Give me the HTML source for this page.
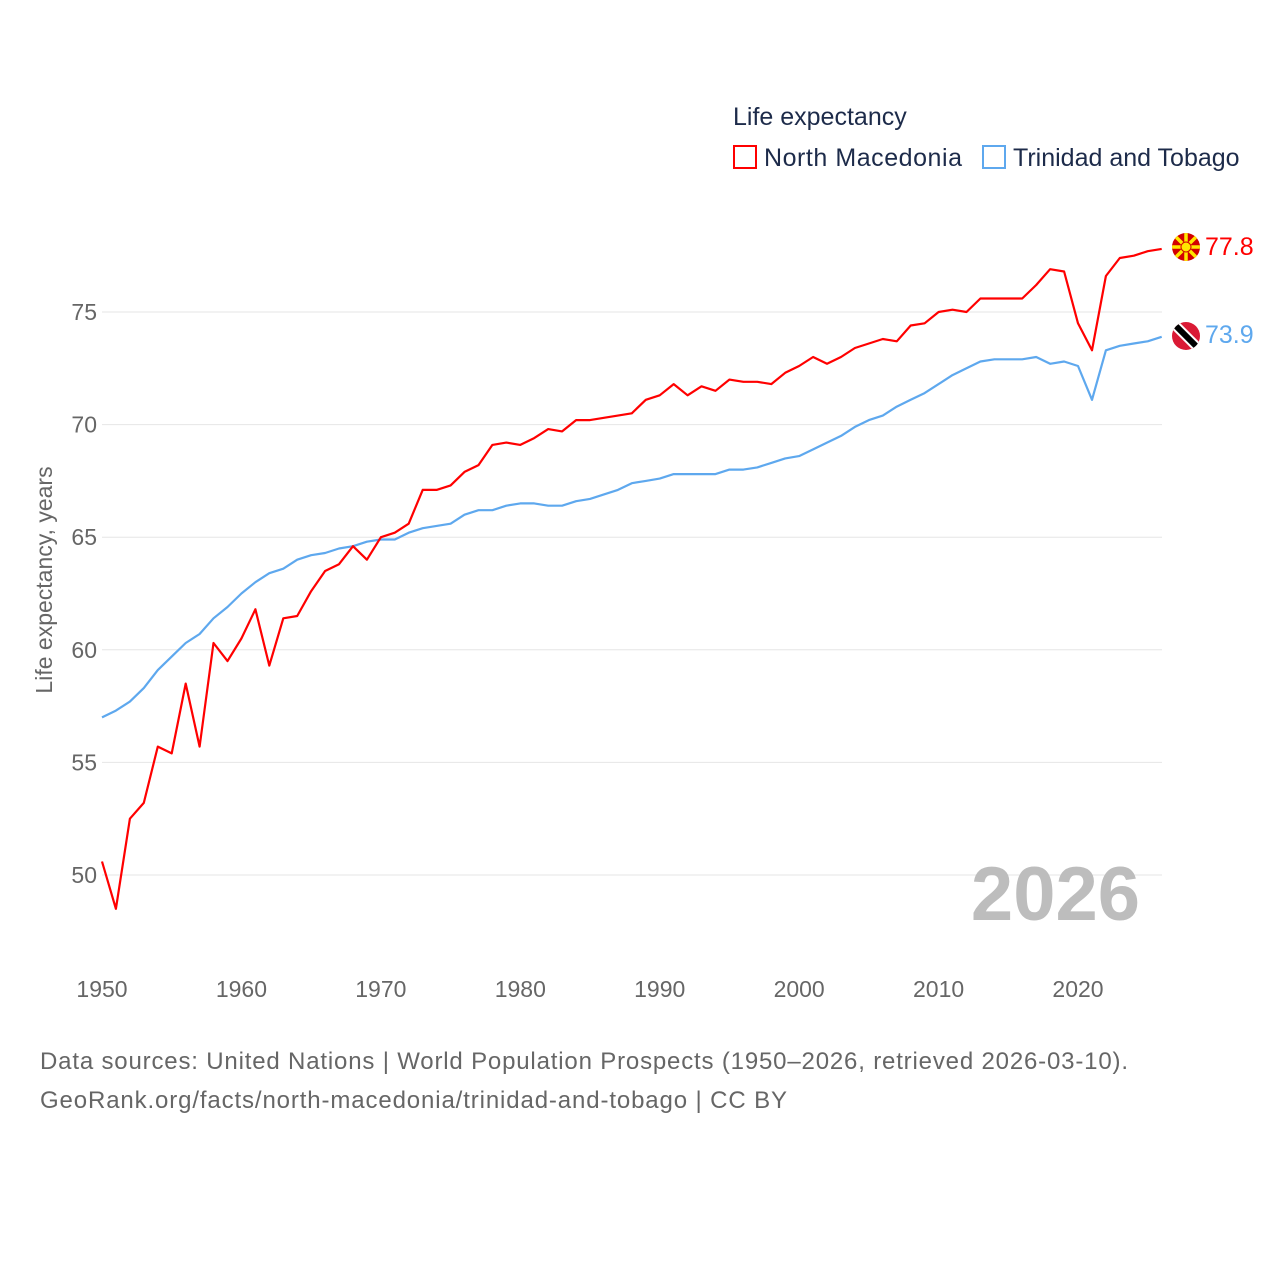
<!DOCTYPE html>
<html><head><meta charset="utf-8"><style>
body{margin:0;background:#fff;}
svg{display:block;font-family:"Liberation Sans",sans-serif;}
</style></head><body>
<svg id="chart" width="1280" height="1280" viewBox="0 0 1280 1280">
<g id="grid"></g>
<g id="yticks"></g>
<g id="xticks"></g>
<text x="52" y="580" transform="rotate(-90 52 580)" text-anchor="middle" font-size="23" fill="#666">Life expectancy, years</text>
<text x="1140" y="920" text-anchor="end" font-size="76" font-weight="bold" fill="#bdbdbd">2026</text>
<g id="lines"></g>
<g>
<text x="733" y="125" font-size="25" fill="#1d2b4a">Life expectancy</text>
<g>
<rect x="734" y="146" width="22" height="22" fill="none" stroke="#ff0000" stroke-width="2"/>
<text x="764" y="166" font-size="25" fill="#1d2b4a" textLength="198">North Macedonia</text></g>
<g>
<rect x="983" y="146" width="22" height="22" fill="none" stroke="#5ea8ee" stroke-width="2"/>
<text x="1013" y="166" font-size="25" fill="#1d2b4a">Trinidad and Tobago</text></g>
</g>
<g>
<clipPath id="c1"><circle cx="1186" cy="247" r="14"/></clipPath>
<g clip-path="url(#c1)"><rect x="1170" y="231" width="32" height="32" fill="#d20000"/>
<g stroke="#ffe600" stroke-width="3.5">
<line x1="1186" y1="231" x2="1186" y2="263"/><line x1="1170" y1="247" x2="1202" y2="247"/>
<line x1="1172" y1="233" x2="1200" y2="261"/><line x1="1200" y1="233" x2="1172" y2="261"/></g>
<circle cx="1186" cy="247" r="5" fill="#ffe600" stroke="#d20000" stroke-width="1"/></g></g>
<g>
<clipPath id="c2"><circle cx="1186" cy="336" r="14"/></clipPath>
<g clip-path="url(#c2)"><rect x="1170" y="320" width="32" height="32" fill="#da1a35"/>
<line x1="1172" y1="322" x2="1200" y2="350" stroke="#fff" stroke-width="10"/>
<line x1="1172" y1="322" x2="1200" y2="350" stroke="#000" stroke-width="6"/></g></g>
<text x="1205" y="255" font-size="25" fill="#ff0000">77.8</text>
<text x="1205" y="343" font-size="25" fill="#5ea8ee">73.9</text>
<text x="40" y="1069" font-size="24" fill="#666" textLength="1088">Data sources: United Nations | World Population Prospects (1950–2026, retrieved 2026-03-10).</text>
<text x="40" y="1108" font-size="24" fill="#666" textLength="747">GeoRank.org/facts/north-macedonia/trinidad-and-tobago | CC BY</text>
</svg>
<script>
const startYear = 1950;
const northMacedonia = [50.6,48.5,52.5,53.2,55.7,55.4,58.5,55.7,60.3,59.5,60.5,61.8,59.3,61.4,61.5,62.6,63.5,63.8,64.6,64.0,65.0,65.2,65.6,67.1,67.1,67.3,67.9,68.2,69.1,69.2,69.1,69.4,69.8,69.7,70.2,70.2,70.3,70.4,70.5,71.1,71.3,71.8,71.3,71.7,71.5,72.0,71.9,71.9,71.8,72.3,72.6,73.0,72.7,73.0,73.4,73.6,73.8,73.7,74.4,74.5,75.0,75.1,75.0,75.6,75.6,75.6,75.6,76.2,76.9,76.8,74.5,73.3,76.6,77.4,77.5,77.7,77.8];
const trinidadTobago = [57.0,57.3,57.7,58.3,59.1,59.7,60.3,60.7,61.4,61.9,62.5,63.0,63.4,63.6,64.0,64.2,64.3,64.5,64.6,64.8,64.9,64.9,65.2,65.4,65.5,65.6,66.0,66.2,66.2,66.4,66.5,66.5,66.4,66.4,66.6,66.7,66.9,67.1,67.4,67.5,67.6,67.8,67.8,67.8,67.8,68.0,68.0,68.1,68.3,68.5,68.6,68.9,69.2,69.5,69.9,70.2,70.4,70.8,71.1,71.4,71.8,72.2,72.5,72.8,72.9,72.9,72.9,73.0,72.7,72.8,72.6,71.1,73.3,73.5,73.6,73.7,73.9];
const yTicks = [50,55,60,65,70,75];
const xTicks = [1950,1960,1970,1980,1990,2000,2010,2020];

const NS = "http://www.w3.org/2000/svg";
function xs(yr){ return 102 + (yr - 1950) * 13.943; }
function ys(v){ return 312 + (75 - v) * 22.52; }
function mk(tag, attrs, parent){ const e = document.createElementNS(NS, tag); for (const k in attrs) e.setAttribute(k, attrs[k]); parent.appendChild(e); return e; }

const grid = document.getElementById('grid'), yg = document.getElementById('yticks'), xg = document.getElementById('xticks'), lg = document.getElementById('lines');
yTicks.forEach(v => {
  const l = mk('line', {x1:102, x2:1162, y1:ys(v), y2:ys(v), stroke:'#e6e6e6', 'stroke-width':1}, grid);
  
  
  const t = mk('text', {x:97, y:ys(v)+8, 'text-anchor':'end', 'font-size':23, fill:'#666'}, yg);
  t.textContent = v;
  
  
});
xTicks.forEach(yr => {
  const t = mk('text', {x:xs(yr), y:997, 'text-anchor':'middle', 'font-size':23, fill:'#666'}, xg);
  t.textContent = yr;
  
  
});
function drawLine(arr, color, name){
  const pts = arr.map((v,i) => xs(startYear+i).toFixed(1) + ',' + ys(v).toFixed(1)).join(' ');
  const p = mk('polyline', {points:pts, fill:'none', stroke:color, 'stroke-width':2.2, 'stroke-linejoin':'round'}, lg);
  
  
}
drawLine(trinidadTobago, '#5ea8ee', 'line-trinidad-and-tobago');
drawLine(northMacedonia, '#ff0000', 'line-north-macedonia');
</script>
</body></html>
